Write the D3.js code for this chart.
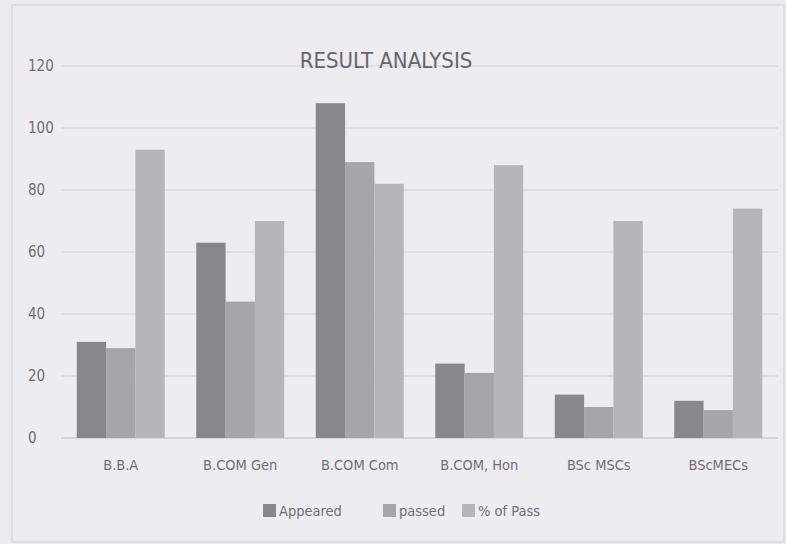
<!DOCTYPE html>
<html>
<head>
<meta charset="utf-8">
<script src="https://cdn.jsdelivr.net/npm/d3@7"></script>
<style>
  body { margin: 0; background: #ecebf0; }
  text { font-family: "Liberation Sans Narrow", "DejaVu Sans Condensed", "Liberation Sans", sans-serif; fill: #706f75; }
</style>
</head>
<body>
<div id="chart"></div>
<script>
// values
const courses = ["B.B.A", "B.COM Gen", "B.COM Com", "B.COM, Hon", "BSc MSCs", "BScMECs"]
const appeared = [31, 63, 108, 24, 14, 12]
const passed = [29, 44, 89, 21, 10, 9]
const passPct = [93, 70, 82, 88, 70, 74]
const seriesNames = ["Appeared", "passed", "% of Pass"]
const yTicks = [0, 20, 40, 60, 80, 100, 120]

const width = 786,
    height = 544;

const svg = d3.select("#chart")
  .append("svg")
    .attr("width", width)
    .attr("height", height)

// chart border
svg.append("rect")
  .attr("x", 12).attr("y", 5)
  .attr("width", 772).attr("height", 537)
  .attr("fill", "#edecf1")
  .attr("stroke", "#d2d1d6")

const x = d3.scaleBand()
  .domain(courses)
  .range([61, 778])
  .paddingInner(0.264)
  .paddingOuter(0.132)

const sub = d3.scaleBand()
  .domain(seriesNames)
  .range([0, x.bandwidth()])

const y = d3.scaleLinear()
  .domain([0, 120])
  .range([438, 66])

const color = d3.scaleOrdinal()
  .domain(seriesNames)
  .range(["#88878d", "#a6a5aa", "#b6b5ba"])

// gridlines
svg.append("g")
  .selectAll("line")
  .data(yTicks)
  .join("line")
    .attr("x1", 61).attr("x2", 778)
    .attr("y1", d => y(d)).attr("y2", d => y(d))
    .attr("stroke", d => d === 0 ? "#bdbcc2" : "#d0cfd5")
    .attr("stroke-width", 1.2)

// y labels (left aligned in the original)
svg.append("g")
  .selectAll("text")
  .data(yTicks)
  .join("text")
    .attr("x", 28)
    .attr("y", d => y(d))
    .attr("dy", "0.36em")
    .style("font-size", "15px")
    .text(d => d)

const rows = courses.map((c, i) => ({course: c, values: [appeared[i], passed[i], passPct[i]]}))

svg.append("g")
  .selectAll("g")
  .data(rows)
  .join("g")
    .attr("transform", d => `translate(${x(d.course)},0)`)
  .selectAll("rect")
  .data(d => d.values.map((v, j) => ({key: seriesNames[j], value: v})))
  .join("rect")
    .attr("x", d => sub(d.key))
    .attr("y", d => y(d.value))
    .attr("width", sub.bandwidth())
    .attr("height", d => y(0) - y(d.value))
    .attr("fill", d => color(d.key))

// category labels
svg.append("g")
  .selectAll("text")
  .data(courses)
  .join("text")
    .attr("x", d => x(d) + x.bandwidth() / 2)
    .attr("y", 470)
    .attr("text-anchor", "middle")
    .style("font-size", "14.5px")
    .text(d => d)

// title
svg.append("text")
  .attr("x", 386)
  .attr("y", 68)
  .attr("text-anchor", "middle")
  .style("font-size", "22px")
  .style("fill", "#67666c")
  .text("RESULT ANALYSIS")

// legend
const legendX = [263, 383, 462]
const legend = svg.append("g")
  .selectAll("g")
  .data(seriesNames)
  .join("g")
    .attr("transform", (d, i) => `translate(${legendX[i]},504)`)

legend.append("rect")
  .attr("width", 13).attr("height", 13)
  .attr("fill", d => color(d))

legend.append("text")
  .attr("x", 16)
  .attr("y", 12)
  .style("font-size", "14.5px")
  .text(d => d)
</script>
</body>
</html>
